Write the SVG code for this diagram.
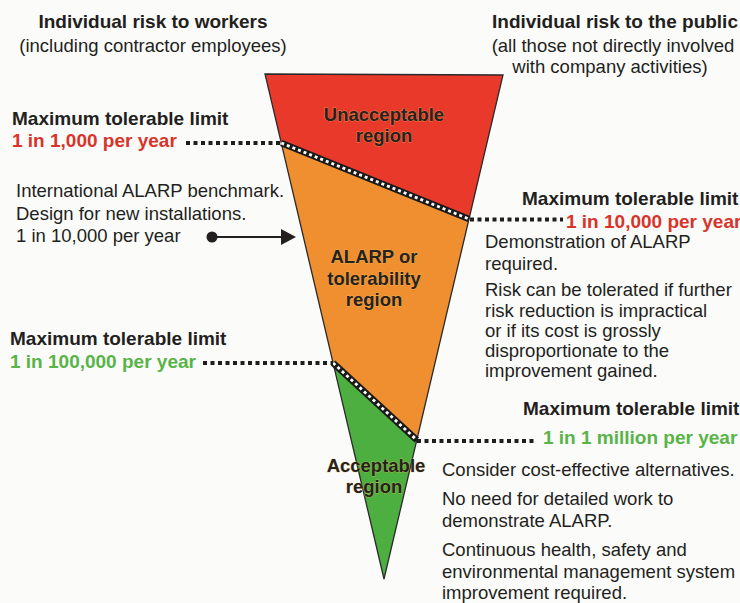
<svg xmlns="http://www.w3.org/2000/svg" width="740" height="603" viewBox="0 0 740 603">
  <defs>
    <style>
      text { font-family: "Liberation Sans", Arial, sans-serif; fill: #231f20; }
      .b { font-weight: bold; font-size: 19px; }
      .r { font-size: 18.5px; }
      .red { fill: #d8342a; }
      .grn { fill: #58b447; }
      .lbl { font-weight: bold; font-size: 18.5px; text-anchor: middle; fill: #262220; stroke: #f4c25e; stroke-width: 1px; stroke-opacity: 0.5; paint-order: stroke; }
      .mid { text-anchor: middle; }
      .dot { stroke: #1e1e1e; stroke-width: 4; stroke-dasharray: 4 3.5; fill: none; }
      .sepb { stroke: #1a1a1a; stroke-width: 6.5; fill: none; }
      .sepw { stroke: #ffffff; stroke-width: 2.8; stroke-dasharray: 3 3; fill: none; }
    </style>
    <marker id="ah" viewBox="0 0 16 16" refX="1" refY="8" markerWidth="16" markerHeight="16" markerUnits="userSpaceOnUse" orient="auto">
      <path d="M0,0 L15,8 L0,16 Z" fill="#231f20"/>
    </marker>
    <marker id="dotstart" viewBox="0 0 12 12" refX="6" refY="6" markerWidth="12" markerHeight="12" markerUnits="userSpaceOnUse">
      <circle cx="6" cy="6" r="5.5" fill="#231f20"/>
    </marker>
  </defs>

  <rect x="0" y="0" width="740" height="603" fill="#fbfbfa"/>

  <!-- Triangle regions -->
  <g id="unacceptable-region">
    <polygon points="265,74 503,75 469,219 281.3,143" fill="#e8392b"/>
    <text class="lbl" x="384" y="121">Unacceptable</text>
    <text class="lbl" x="384" y="142">region</text>
  </g>
  <g id="alarp-region">
    <polygon points="281.3,143 469,219 416.8,440 333.1,363" fill="#ef8f30"/>
    <text class="lbl" x="374" y="263">ALARP or</text>
    <text class="lbl" x="374" y="285">tolerability</text>
    <text class="lbl" x="374" y="306">region</text>
  </g>
  <g id="acceptable-region">
    <polygon points="333.1,363 416.8,440 384,579" fill="#4caf3f"/>
  </g>
  <g id="triangle-outline">
    <polygon points="265,74 503,75 384,579" fill="none" stroke="#2a2a2a" stroke-width="1.3" stroke-linejoin="miter"/>
  </g>
  <g id="acceptable-label">
    <text class="lbl" x="376" y="472">Acceptable</text>
    <text class="lbl" x="374" y="493">region</text>
  </g>

  <!-- Connectors: separators, leaders and arrow -->
  <g id="connectors">
    <line class="sepb" x1="281.3" y1="143" x2="469" y2="219"/>
    <line class="sepw" x1="281.3" y1="143" x2="469" y2="219"/>
    <line class="sepb" x1="333.1" y1="363" x2="416.8" y2="440"/>
    <line class="sepw" x1="333.1" y1="363" x2="416.8" y2="440"/>
    <line class="dot" x1="186" y1="143" x2="282" y2="143"/>
    <line class="dot" x1="203" y1="363" x2="333" y2="363"/>
    <line class="dot" x1="470" y1="219.5" x2="563" y2="219.5"/>
    <line class="dot" x1="417" y1="441" x2="534" y2="441"/>
    <line x1="212" y1="237" x2="282" y2="237" stroke="#231f20" stroke-width="2.2" marker-start="url(#dotstart)" marker-end="url(#ah)"/>
  </g>

  <!-- Headers -->
  <g id="workers-header">
    <text class="b mid" x="153" y="28">Individual risk to workers</text>
    <text class="r mid" x="153" y="52">(including contractor employees)</text>
  </g>
  <g id="public-header">
    <text class="b mid" x="615" y="28">Individual risk to the public</text>
    <text class="r mid" x="613" y="52">(all those not directly involved</text>
    <text class="r mid" x="610" y="73">with company activities)</text>
  </g>

  <!-- Left annotations -->
  <g id="workers-limit-1000">
    <text class="b" x="12" y="125">Maximum tolerable limit</text>
    <text class="b red" x="12" y="147">1 in 1,000 per year</text>
  </g>
  <g id="alarp-benchmark">
    <text class="r" x="16" y="197">International ALARP benchmark.</text>
    <text class="r" x="16" y="220">Design for new installations.</text>
    <text class="r" x="16" y="242">1 in 10,000 per year</text>
  </g>
  <g id="workers-limit-100000">
    <text class="b" x="10" y="345">Maximum tolerable limit</text>
    <text class="b grn" x="10" y="368">1 in 100,000 per year</text>
  </g>

  <!-- Right annotations -->
  <g id="public-limit-10000">
    <text class="b" x="522" y="205">Maximum tolerable limit</text>
    <text class="b red" x="566" y="228">1 in 10,000 per year</text>
    <text class="r" x="485" y="248">Demonstration of ALARP</text>
    <text class="r" x="485" y="270">required.</text>
    <text class="r" x="485" y="296">Risk can be tolerated if further</text>
    <text class="r" x="485" y="317">risk reduction is impractical</text>
    <text class="r" x="485" y="337">or if its cost is grossly</text>
    <text class="r" x="485" y="357">disproportionate to the</text>
    <text class="r" x="485" y="377">improvement gained.</text>
  </g>
  <g id="public-limit-million">
    <text class="b" x="523" y="415">Maximum tolerable limit</text>
    <text class="b grn" x="543" y="444">1 in 1 million per year</text>
    <text class="r" x="442" y="476">Consider cost-effective alternatives.</text>
    <text class="r" x="442" y="505">No need for detailed work to</text>
    <text class="r" x="442" y="527">demonstrate ALARP.</text>
    <text class="r" x="442" y="556">Continuous health, safety and</text>
    <text class="r" x="442" y="578">environmental management system</text>
    <text class="r" x="442" y="599">improvement required.</text>
  </g>
</svg>
